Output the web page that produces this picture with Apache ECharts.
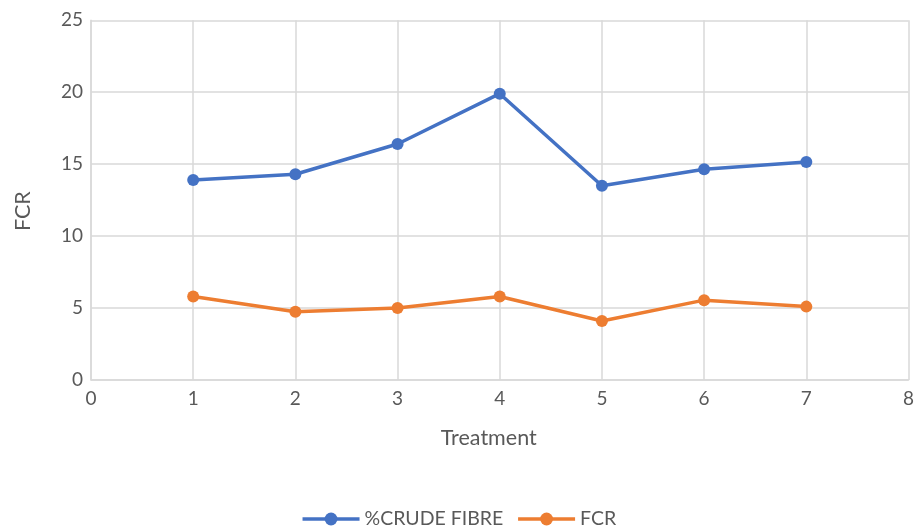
<!DOCTYPE html>
<html>
<head>
<meta charset="utf-8">
<script src="https://cdn.jsdelivr.net/npm/echarts@6/dist/echarts.min.js"></script>
<style>
  html, body { margin: 0; padding: 0; background: #fff; }
  #chart { width: 917px; height: 528px; }
</style>
</head>
<body>
<div id="chart"></div>
<script>
// Treatment numbers and measured values per treatment
const treatments = [1, 2, 3, 4, 5, 6, 7];
const crudeFibre = [13.9, 14.3, 16.4, 19.9, 13.5, 14.65, 15.15];
const fcr = [5.8, 4.75, 5.0, 5.8, 4.1, 5.55, 5.1];
const seriesNames = ['%CRUDE FIBRE', 'FCR'];

const pairs = (xs, ys) => xs.map((x, i) => [x, ys[i]]);

const font = 'Lato, "Open Sans", sans-serif';
const textGray = '#595959';
const gridGray = '#d9d9d9';
const blue = '#4472C4';
const orange = '#ED7D31';

const chart = echarts.init(document.getElementById('chart'));
chart.setOption({
  animation: false,
  textStyle: { fontFamily: font },
  grid: { left: 91, right: 3.5, top: 20.3, bottom: 148 },
  legend: {
    bottom: -6,
    left: 'center',
    itemWidth: 57,
    itemHeight: 16,
    itemGap: 13,
    lineStyle: { width: 3.5 },
    textStyle: { fontFamily: font, fontSize: 19.5, color: textGray },
    data: seriesNames
  },
  xAxis: {
    type: 'value',
    min: 0, max: 8, interval: 1,
    name: 'Treatment',
    nameLocation: 'middle',
    nameGap: 47,
    nameTextStyle: { fontFamily: font, fontSize: 21.5, color: textGray, padding: [0, 22, 0, 0] },
    axisLine: { lineStyle: { color: gridGray, width: 1.5 } },
    axisTick: { show: false },
    axisLabel: { fontFamily: font, fontSize: 19, color: textGray, margin: 9 },
    splitLine: { show: true, lineStyle: { color: gridGray, width: 1.5 } }
  },
  yAxis: {
    type: 'value',
    min: 0, max: 25, interval: 5,
    name: 'FCR',
    nameLocation: 'middle',
    nameRotate: 90,
    nameGap: 57,
    nameTextStyle: { fontFamily: font, fontSize: 21.5, color: textGray, padding: [0, 22, 0, 0] },
    axisLine: { show: true, lineStyle: { color: gridGray, width: 1.5 } },
    axisTick: { show: false },
    axisLabel: { fontFamily: font, fontSize: 19, color: textGray, margin: 8 },
    splitLine: { show: true, lineStyle: { color: gridGray, width: 1.5 } }
  },
  series: [
    {
      name: seriesNames[0],
      type: 'line',
      data: pairs(treatments, crudeFibre),
      color: blue,
      symbol: 'circle',
      symbolSize: 12,
      lineStyle: { width: 3.5, color: blue },
      itemStyle: { color: blue }
    },
    {
      name: seriesNames[1],
      type: 'line',
      data: pairs(treatments, fcr),
      color: orange,
      symbol: 'circle',
      symbolSize: 12,
      lineStyle: { width: 3.5, color: orange },
      itemStyle: { color: orange }
    }
  ]
});
</script>
</body>
</html>
